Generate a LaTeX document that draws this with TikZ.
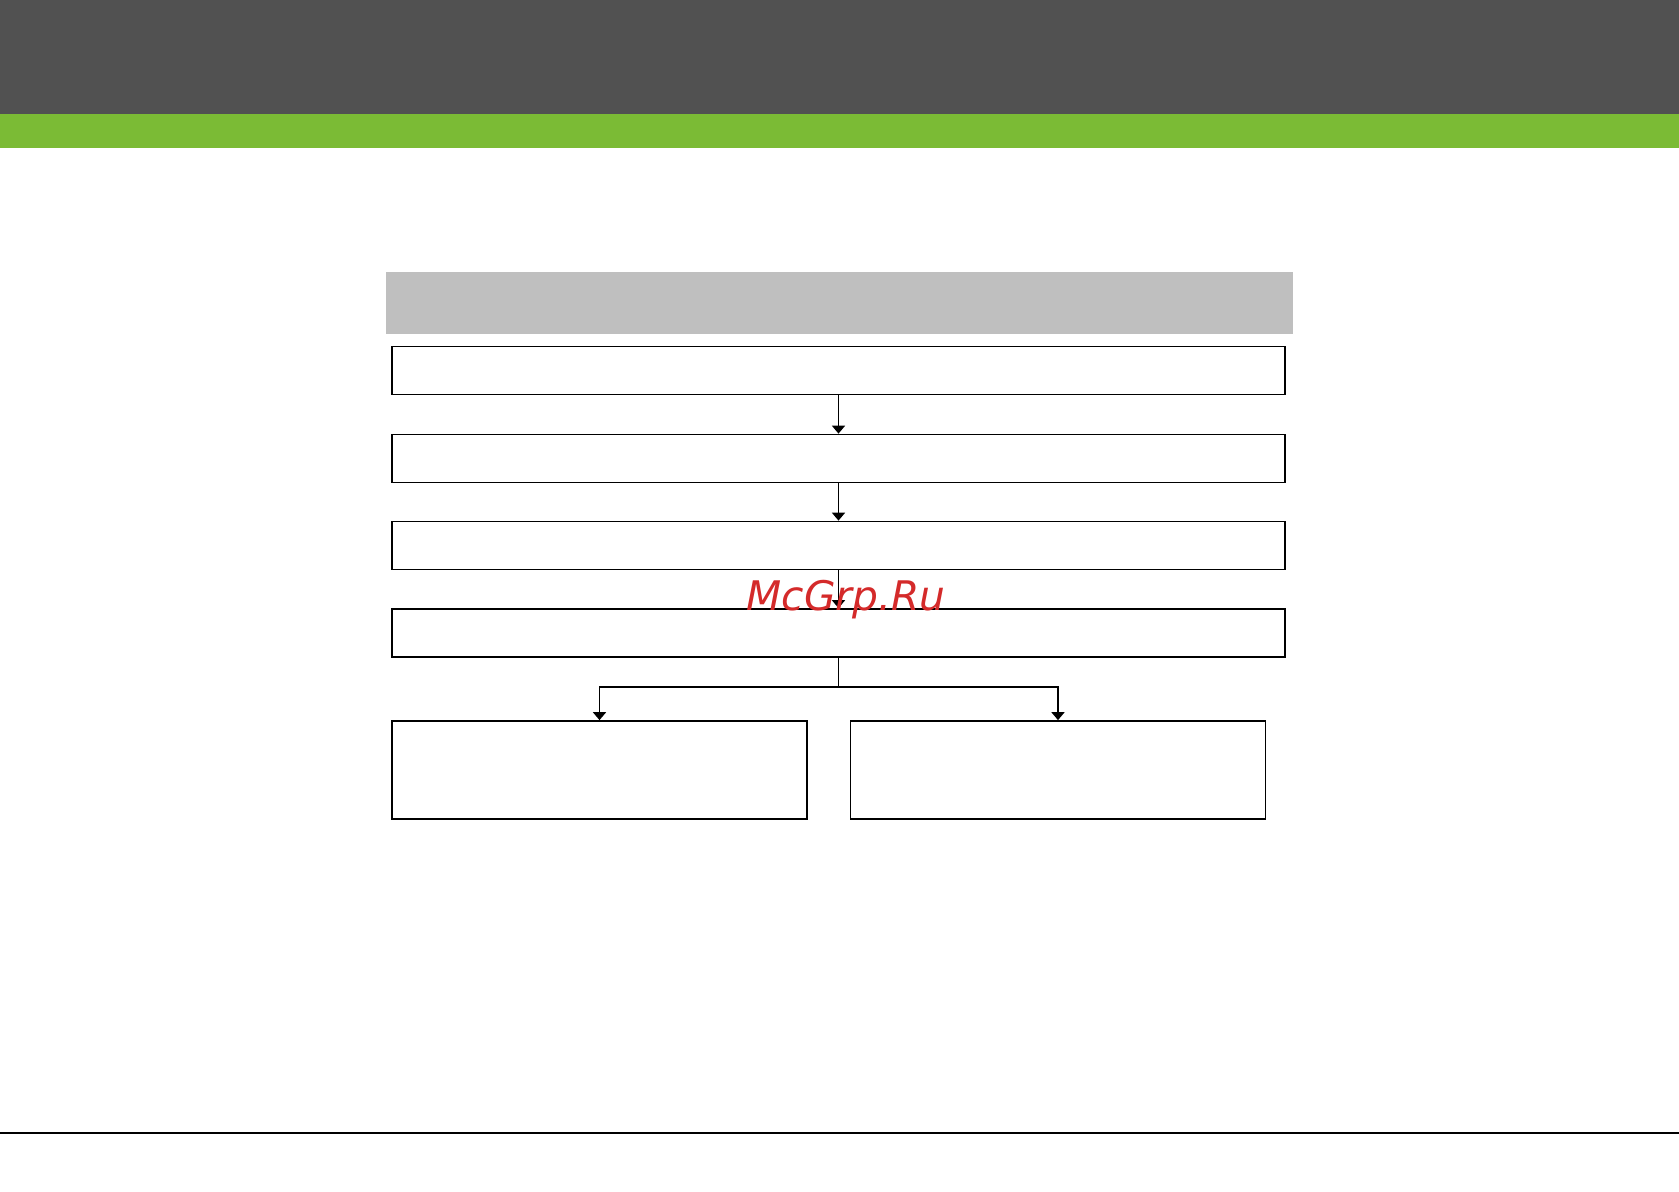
\documentclass[tikz,border=0pt]{standalone}
\usepackage{fontspec}
\newfontfamily\wmfont{DejaVu Sans}
\usetikzlibrary{positioning,arrows.meta}

\definecolor{bandgray}{HTML}{515151}
\definecolor{bandgreen}{HTML}{7BBB35}
\definecolor{headgray}{HTML}{BFBFBF}
\definecolor{wmred}{HTML}{D42A2A}

\begin{document}
\begin{tikzpicture}[
  every node/.style={font=\footnotesize, align=center},
  head/.style ={fill=headgray, inner sep=0pt, minimum height=6.2mm, minimum width=90.7mm},
  wide/.style ={draw, line width=0.5pt, fill=white, inner sep=0pt, minimum height=4.8mm, minimum width=89.3mm},
  half/.style ={draw, line width=0.5pt, fill=white, inner sep=0pt, minimum height=9.8mm, minimum width=41.5mm},
  flow/.style ={-{Triangle[length=0.8mm, width=1.3mm]}, line width=0.5pt},
]
\useasboundingbox (0,0) rectangle (16.79,-11.91);

% title bands
\fill[bandgray]  (0,0) rectangle (16.79,-1.14);
\fill[bandgreen] (0,-1.14) rectangle (16.79,-1.48);
\draw[line width=0.5pt] (0,-11.33) -- (16.79,-11.33);

\node[head] (hdr) at (8.39,-3.03) {};

\node[wide] (stepA) at (8.385,-3.705) {};
\node[wide] (stepB) at (8.385,-4.585) {};
\node[wide] (stepC) at (8.385,-5.455) {};
\node[wide] (stepD) at (8.385,-6.33) {};
\node[half] (left)  at (5.995,-7.70) {};
\node[half] (right) at (10.58,-7.70) {};

\draw[flow] (stepA.south) -- (stepB.north);
\draw[flow] (stepB.south) -- (stepC.north);
\draw[flow] (stepC.south) -- (stepD.north);

\draw[line width=0.5pt] (stepD.south) -- ++(0,-0.29) coordinate (split);
\draw[flow] (split) -| (left.north);
\draw[flow] (split) -| (right.north);

\node[font=\wmfont\itshape\fontsize{11.6}{12}\selectfont, text=wmred] (wm) at (8.46,-6.00) {McGrp.Ru};

\end{tikzpicture}
\end{document}
